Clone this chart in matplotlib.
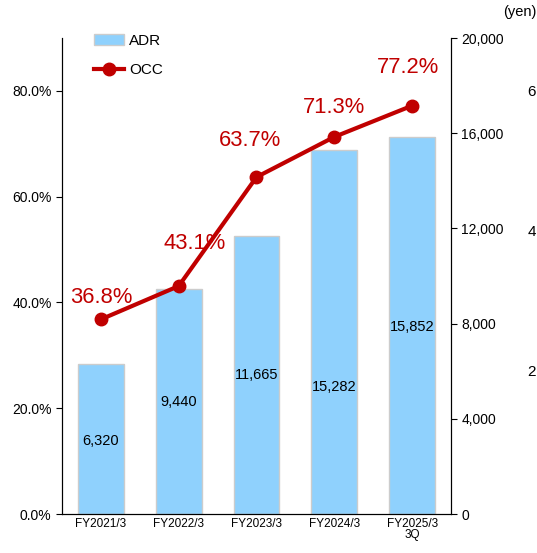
import matplotlib.pyplot as plt

plt.rcParams['font.family'] = ['Liberation Sans', 'DejaVu Sans']

# Data
periods = ["FY2021/3", "FY2022/3", "FY2023/3", "FY2024/3", "FY2025/3\n3Q"]
adr = [6320, 9440, 11665, 15282, 15852]
occ = [36.8, 43.1, 63.7, 71.3, 77.2]

# label placement (layout only)
adr_label_y = [3070, 4700, 5840, 5340, 7860]
occ_label_offset = [(0, 22), (16, 43), (-6, 37), (0, 29), (-4, 38)]

bar_color = "#8FD1FD"
line_color = "#C00000"

fig = plt.figure(figsize=(5.37, 5.53), dpi=100)
ax = fig.add_axes([62 / 537, 39 / 553, 389 / 537, 476 / 553])
ax2 = ax.twinx()

x = list(range(len(periods)))

# ADR bars (right axis, yen)
bars = ax.bar(x, adr, width=0.59, color=bar_color, edgecolor="#CCCCCC", linewidth=1, label="ADR")
for xi, v, ly in zip(x, adr, adr_label_y):
    ax.text(xi, ly, f"{v:,}", ha="center", va="center", fontsize=10.5, color="black")

ax.set_ylim(0, 20000)
ax.set_yticks(range(0, 20001, 4000))
ax.set_yticklabels([f"{t:,}" for t in range(0, 20001, 4000)], fontsize=10)
ax.yaxis.tick_right()
ax.set_xlim(-0.5, len(periods) - 0.5)
ax.set_xticks(x)
ax.set_xticklabels(periods, fontsize=8.5, linespacing=0.9)
ax.tick_params(axis="x", length=0, pad=3)

# OCC line (left axis, %)
line, = ax2.plot(x, occ, color=line_color, linewidth=3, marker="o", markersize=9, label="OCC", zorder=3)
for xi, v, (dx, dy) in zip(x, occ, occ_label_offset):
    ax2.annotate(f"{v}%", (xi, v), xytext=(dx, dy), textcoords="offset pixels",
                 ha="center", va="center", fontsize=15.8, color=line_color, zorder=1)

ax2.set_ylim(0, 90)
ax2.set_yticks([0, 20, 40, 60, 80])
ax2.set_yticklabels([f"{t:.1f}%" for t in [0, 20, 40, 60, 80]], fontsize=10)
ax2.yaxis.tick_left()

for a in (ax, ax2):
    a.spines["top"].set_visible(False)
ax.tick_params(axis="y", direction="out", length=4)
ax2.tick_params(axis="y", direction="out", length=4)

# Legend
fig.legend([bars, line], ["ADR", "OCC"], loc="upper left", bbox_to_anchor=(80 / 537, 1 - 20 / 553),
           frameon=False, fontsize=11, handlelength=2.0, handletextpad=0.3, labelspacing=1.0)

fig.text(520 / 537, 1 - 12 / 553, "(yen)", ha="center", va="center", fontsize=10.5)
for lbl, yy in zip(["6", "4", "2"], [92, 232, 372]):
    fig.text(532 / 537, 1 - yy / 553, lbl, ha="center", va="center", fontsize=11)

fig.savefig("out.png", dpi=100)
